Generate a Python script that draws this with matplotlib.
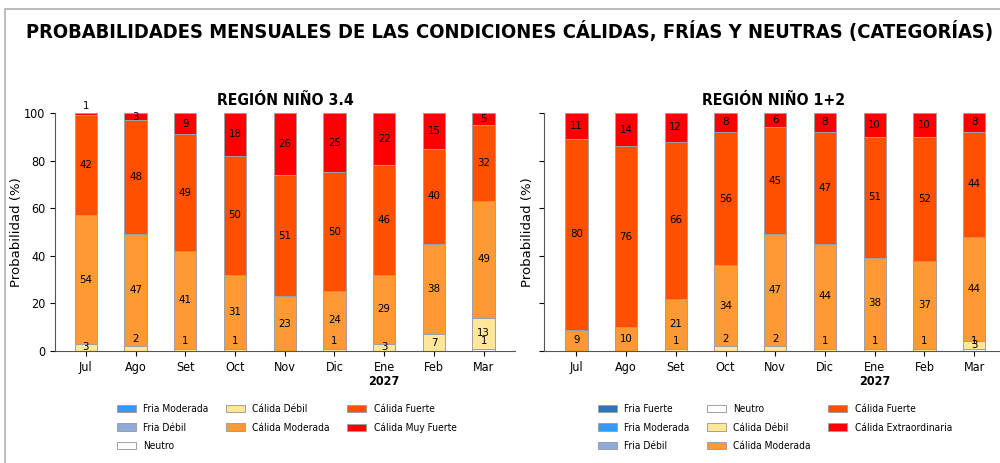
import os
import numpy as np
import matplotlib
matplotlib.use("Agg")
import matplotlib.pyplot as plt
from matplotlib.patches import Rectangle
from matplotlib import font_manager as fm

meses = ['Jul', 'Ago', 'Set', 'Oct', 'Nov', 'Dic', 'Ene', 'Feb', 'Mar']
anio = '2027'

# Niño 3.4
cat_34 = ['Fria Moderada', 'Fria Débil', 'Neutro', 'Cálida Débil',
          'Cálida Moderada', 'Cálida Fuerte', 'Cálida Muy Fuerte']
col_34 = ['#3399ff', '#8eaadb', '#ffffff', '#ffe699', '#ff9933', '#ff5000', '#ff0000']
fria_mod_34 = [0, 0, 0, 0, 0, 0, 0, 0, 0]
fria_deb_34 = [0, 0, 0, 0, 0, 0, 0, 0, 0]
neutro_34 = [0, 0, 0, 0, 0, 0, 0, 0, 1]
cal_deb_34 = [3, 2, 1, 1, 0, 1, 3, 7, 13]
cal_mod_34 = [54, 47, 41, 31, 23, 24, 29, 38, 49]
cal_fue_34 = [42, 48, 49, 50, 51, 50, 46, 40, 32]
cal_muy_34 = [1, 3, 9, 18, 26, 25, 22, 15, 5]

# Niño 1+2
cat_12 = ['Fria Fuerte', 'Fria Moderada', 'Fria Débil', 'Neutro', 'Cálida Débil',
          'Cálida Moderada', 'Cálida Fuerte', 'Cálida Extraordinaria']
col_12 = ['#2e75b6', '#3399ff', '#8eaadb', '#ffffff', '#ffe699', '#ff9933', '#ff5000', '#ff0000']
fria_fue_12 = [0, 0, 0, 0, 0, 0, 0, 0, 0]
fria_mod_12 = [0, 0, 0, 0, 0, 0, 0, 0, 0]
fria_deb_12 = [0, 0, 0, 0, 0, 0, 0, 0, 0]
neutro_12 = [0, 0, 0, 0, 0, 0, 0, 0, 1]
cal_deb_12 = [0, 0, 1, 2, 2, 1, 1, 1, 3]
cal_mod_12 = [9, 10, 21, 34, 47, 44, 38, 37, 44]
cal_fue_12 = [80, 76, 66, 56, 45, 47, 51, 52, 44]
cal_ext_12 = [11, 14, 12, 8, 6, 8, 10, 10, 8]

series_34 = [fria_mod_34, fria_deb_34, neutro_34, cal_deb_34, cal_mod_34, cal_fue_34, cal_muy_34]
series_12 = [fria_fue_12, fria_mod_12, fria_deb_12, neutro_12, cal_deb_12, cal_mod_12, cal_fue_12, cal_ext_12]


# fuente DejaVu Sans Condensed (si está instalada)
def fichero(nombre):
    for f in fm.fontManager.ttflist:
        if os.path.basename(f.fname) == nombre:
            return f.fname
    return None

F_REG = fichero('DejaVuSansCondensed.ttf')
F_BOLD = fichero('DejaVuSansCondensed-Bold.ttf')


def fp(size, bold=False):
    path = F_BOLD if bold else F_REG
    if path is None:
        return fm.FontProperties(family='DejaVu Sans', size=size,
                                 weight='bold' if bold else 'normal')
    return fm.FontProperties(fname=path, size=size)


def barras(ax, series, cats, cols, titulo, xlim):
    x = np.arange(len(meses))
    bottom = np.zeros(len(meses))
    for vals, cat, c in zip(series, cats, cols):
        vals = np.array(vals, dtype=float)
        ax.bar(x, vals, 0.45, bottom=bottom, color=c, edgecolor='#a0a0a0',
               linewidth=0.7, label=cat)
        for i, v in enumerate(vals):
            if v <= 0:
                continue
            # valores pequeños: etiqueta por encima del segmento
            if v < 3:
                y = bottom[i] + v + 3
            else:
                y = bottom[i] + v / 2
            ax.text(x[i], y, '%d' % v, ha='center', va='center', fontproperties=fp(8.2))
        bottom += vals
    ax.set_xlim(*xlim)
    ax.set_ylim(0, 100)
    ax.set_xticks(x)
    ax.set_xticklabels(meses, fontproperties=fp(9))
    ax.set_yticks(np.arange(0, 101, 20))
    ax.set_yticklabels([str(v) for v in range(0, 101, 20)], fontproperties=fp(9))
    ax.spines['top'].set_visible(False)
    ax.spines['right'].set_visible(False)
    ax.spines['left'].set_color('#555555')
    ax.spines['bottom'].set_color('#555555')
    ax.set_ylabel('Probabilidad (%)', fontsize=9.5, labelpad=0.5)
    ax.set_title(titulo, fontproperties=fp(11.3, True), pad=6)
    ax.text(meses.index('Ene'), -0.13, anio, transform=ax.get_xaxis_transform(),
            ha='center', va='center', fontproperties=fp(9, True))


fig = plt.figure(figsize=(10, 4.63), dpi=100)
fig.patches.append(Rectangle((0.005, -0.1), 1.2, 1.1 - 9 / 463, transform=fig.transFigure,
                             fill=False, edgecolor='#b0b0b0', linewidth=1.2))

ax1 = fig.add_axes([0.055, 0.242, 0.46, 0.514])
ax2 = fig.add_axes([0.544, 0.242, 0.46, 0.514])

barras(ax1, series_34, cat_34, col_34, 'REGIÓN NIÑO 3.4', (-0.62, 8.63))
barras(ax2, series_12, cat_12, col_12, 'REGIÓN NIÑO 1+2', (-0.65, 8.6))
ax2.set_yticklabels([])

fig.suptitle('PROBABILIDADES MENSUALES DE LAS CONDICIONES CÁLIDAS, FRÍAS Y NEUTRAS (CATEGORÍAS)',
             x=0.51, y=0.955, fontproperties=fp(14.4, True))

for ax, xa in [(ax1, 0.117), (ax2, 0.598)]:
    ax.legend(loc='upper left', bbox_to_anchor=(xa, 0.127), bbox_transform=fig.transFigure,
              ncol=3, frameon=False, prop=fp(7.3), handlelength=1.9, handleheight=0.7,
              handletextpad=0.7, columnspacing=1.7, labelspacing=0.82, borderpad=0,
              borderaxespad=0)

fig.savefig('out.png', dpi=100)
